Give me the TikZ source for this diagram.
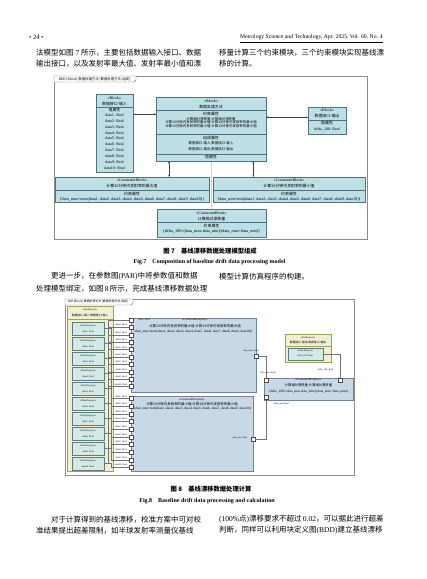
\documentclass[tikz,border=0pt]{standalone}
\usepackage{fontspec}
\setmainfont{Liberation Serif}
\newfontfamily\cjk{Noto Sans CJK SC}
\newfontfamily\latf{Liberation Serif}
\usetikzlibrary{arrows.meta,calc}
\XeTeXlinebreaklocale "zh"
\XeTeXlinebreakskip=0pt plus 1.5pt minus 0.5pt
\definecolor{blkfill}{HTML}{BEDFE6}
\definecolor{blkline}{HTML}{4E7480}
\definecolor{cpfill}{HTML}{C9D8E6}
\definecolor{cpline}{HTML}{71839B}
\definecolor{ppfill}{HTML}{EFEFD1}
\definecolor{ppline}{HTML}{A19F5C}
\definecolor{vpfill}{HTML}{D3E9E5}
\definecolor{vpline}{HTML}{5E7C7C}
\newcommand\myFmax{\{data\_max=max(data1, data2, data3, data4, data5, data6, data7, data8, data9, data10)\}}
\newcommand\myFmin{\{data\_min=min(data1, data2, data3, data4, data5, data6, data7, data8, data9, data10)\}}
\newcommand\myFdelta{\{delta\_100=(data\_max-data\_min)/(data\_max+data\_min)\}}
\newcommand\myJust[2]{\makebox[#1][s]{#2}}
\begin{document}
\begin{tikzpicture}[x=1pt,y=-1pt,
  body/.style={anchor=west,inner sep=0,font=\cjk\fontsize{7.5}{9}\selectfont},
  capzh/.style={inner sep=0,font=\cjk\bfseries\fontsize{6.3}{7}\selectfont},
  capen/.style={inner sep=0,font=\bfseries\fontsize{6}{7}\selectfont},
  frm/.style={draw=black!45,line width=0.5pt,inner sep=0,anchor=north west},
  tabbox/.style={draw=black!55,fill=white,line width=0.4pt},
  blk7/.style={draw=blkline,fill=blkfill,line width=0.45pt,inner sep=0,anchor=north west},
  sep7/.style={draw=blkline,line width=0.35pt},
  t7/.style={inner sep=0,font=\fontsize{4}{4.5}\selectfont},
  c7/.style={inner sep=0,font=\cjk\fontsize{3.9}{4.5}\selectfont},
  c7s/.style={inner sep=0,font=\cjk\fontsize{3.45}{4}\selectfont},
  f7/.style={inner sep=0,font=\fontsize{4.2}{4.6}\selectfont},
  conn7/.style={draw=black!75,line width=0.4pt},
  thick7/.style={draw=black!55,double=black!18,double distance=0.8pt,line width=0.35pt},
  cp/.style={draw=cpline,fill=cpfill,line width=0.45pt,inner sep=0,anchor=north west},
  pp/.style={draw=ppline,fill=ppfill,line width=0.45pt,inner sep=0,anchor=north west},
  vp/.style={draw=vpline,fill=vpfill,line width=0.4pt,inner sep=0},
  port/.style={draw=black!70,fill=white,line width=0.3pt,minimum size=4pt,inner sep=0},
  conn8/.style={draw=black!55,line width=0.4pt},
  t8/.style={inner sep=0,font=\fontsize{2.4}{2.8}\selectfont},
  c8/.style={inner sep=0,font=\cjk\fontsize{2.8}{3.2}\selectfont},
  t8c/.style={inner sep=0,font=\fontsize{3}{3.4}\selectfont},
  c8t/.style={inner sep=0,font=\cjk\fontsize{3.45}{4}\selectfont},
  f8/.style={inner sep=0,font=\fontsize{3.45}{4}\selectfont},
  hdr/.style={inner sep=0,font=\fontsize{5.7}{6.5}\selectfont}
]
\useasboundingbox (0,0) rectangle (427,579);
\fill[white] (0,0) rectangle (427,579);

% ---------- header ----------
\node[hdr,anchor=west,font=\fontsize{6.5}{7}\selectfont] (pg) at (29,37.3) {• 24 •};
\node[hdr,anchor=east] (jr) at (383,37.3) {Metrology Science and Technology, Apr. 2025, Vol. 69, No. 4};
\draw[line width=0.7pt] (240,42) -- (383,42);

% ---------- top text ----------
\node[body] (tl1) at (36,52.5) {\myJust{165pt}{法模型如图{\latf\ 7 }所示，主要包括数据输入接口、数据}};
\node[body] (tl2) at (36,63.5) {\myJust{165pt}{输出接口，以及发射率最大值、发射率最小值和漂}};
\node[body] (tr1) at (219,52.5) {\myJust{164pt}{移量计算三个约束模块，三个约束模块实现基线漂}};
\node[body] (tr2) at (219,63.5) {移的计算。};

% ---------- figure 7 ----------
\node[frm,minimum width=313pt,minimum height=163pt] (f7) at (54,76) {};
\draw[tabbox] (54,76) -- (136,76) -- (136,80) -- (134,82) -- (54,82) -- cycle;
\node[inner sep=0,font=\cjk\fontsize{3.4}{4}\selectfont] (tab7) at (94.5,79) {BDD [Block] 数据处理方法 [数据处理方法-组成]};

\node[blk7,minimum width=37pt,minimum height=78pt] (b1) at (96,94) {};
\draw[sep7] (96,106.7) -- (133,106.7);
\node[t7] (b1s) at (114.5,98.6) {«Block»};
\node[c7] (b1n) at (114.5,103.6) {数据接口-输入};
\node[c7] (b1h) at (114.5,110) {值属性};
\foreach \k in {1,...,10}{
  \node[t7] (b1d\k) at (114.5,{115+5.9*(\k-1)}) {data\k: Real};
}

\node[blk7,minimum width=110pt,minimum height=64pt] (b2) at (156,97) {};
\draw[sep7] (156,110.3) -- (266,110.3);
\draw[sep7] (156,134.3) -- (266,134.3);
\draw[sep7] (156,153.7) -- (266,153.7);
\node[t7] (b2s) at (211,101) {«Block»};
\node[c7] (b2n) at (211,107) {数据处理方法};
\node[c7] (b2h1) at (211,114) {约束属性};
\node[c7s] (b2l1) at (211,118.8) {计算相对漂移量:计算相对漂移量};
\node[c7s] (b2l2) at (211,122.3) {计算10分钟内发射率的最大值:计算10分钟内发射率的最大值};
\node[c7s] (b2l3) at (211,125.8) {计算10分钟内发射率的最小值:计算10分钟内发射率的最小值};
\node[c7] (b2h2) at (211,137.6) {组成属性};
\node[c7s] (b2l4) at (211,143.3) {数据接口-输入:数据接口-输入};
\node[c7s] (b2l5) at (211,149) {数据接口-输出:数据接口-输出};
\node[c7] (b2h3) at (211,157.2) {值属性};

\node[blk7,minimum width=38pt,minimum height=27pt] (b3) at (308,107) {};
\draw[sep7] (308,120) -- (346,120);
\node[t7] (b3s) at (327,110.2) {«Block»};
\node[c7] (b3n) at (327,116.3) {数据接口-输出};
\node[c7] (b3h) at (327,123.4) {值属性};
\node[t7] (b3d) at (327,129.2) {delta\_100: Real};

\node[blk7,minimum width=154pt,minimum height=25pt] (k1) at (55,177) {};
\draw[sep7] (55,190) -- (209,190);
\node[t7] (k1s) at (132,180.6) {«ConstraintBlock»};
\node[c7] (k1n) at (132,186.2) {计算10分钟内发射率的最大值};
\node[c7] (k1h) at (132,193.8) {约束属性};
\node[f7] (k1f) at (132,199.3) {\myFmax};

\node[blk7,minimum width=152pt,minimum height=25pt] (k2) at (213,177) {};
\draw[sep7] (213,190) -- (365,190);
\node[t7] (k2s) at (289,180.6) {«ConstraintBlock»};
\node[c7] (k2n) at (289,186.2) {计算10分钟内发射率的最小值};
\node[c7] (k2h) at (289,193.8) {约束属性};
\node[f7] (k2f) at (289,199.3) {\myFmin};

\node[blk7,minimum width=109pt,minimum height=28pt] (k3) at (157,209) {};
\draw[sep7] (157,222.3) -- (266,222.3);
\node[t7] (k3s) at (211.5,212.7) {«ConstraintBlock»};
\node[c7] (k3n) at (211.5,218.6) {计算相对漂移量};
\node[c7] (k3h) at (211.5,226) {约束属性};
\node[f7] (k3f) at (211.5,231.8) {\myFdelta};

\draw[conn7,{Diamond[length=2.6pt,width=1.8pt]}-{Stealth[length=2pt,width=1.6pt]}] ($(b2.north west)+(0,17.3)$) -- ($(b1.north east)+(0,20.3)$);
\draw[conn7,{Diamond[length=2.6pt,width=1.8pt]}-{Stealth[length=2pt,width=1.6pt]}] ($(b2.north east)+(0,20.3)$) -- ($(b3.north west)+(0,10.3)$);
\draw[conn7,{Diamond[length=2.6pt,width=1.8pt]}-{Stealth[length=2pt,width=1.6pt]}] ($(b2.south west)+(13,0)$) -- ($(k1.north west)+(114,0)$);
\draw[conn7,{Diamond[length=2.6pt,width=1.8pt]}-{Stealth[length=2pt,width=1.6pt]}] ($(b2.south west)+(97.3,0)$) -- ($(k2.north west)+(40.3,0)$);
\draw[thick7] ($(b2.south west)+(55.3,0.3)$) -- ($(k3.north west)+(54.3,-0.3)$);

% ---------- caption 7 ----------
\node[capzh] (cap7) at (210,251) {图 7\quad 基线漂移数据处理模型组成};
\node[capen] (cap7e) at (209.5,261.8) {Fig.7\quad Composition of baseline drift data processing model};

% ---------- middle text ----------
\node[body] (ml1) at (51,276.5) {\myJust{150pt}{更进一步，在参数图{\latf (PAR)}中将参数值和数据}};
\node[body] (ml2) at (36,288.5) {\myJust{165pt}{处理模型绑定，如图{\latf\ 8 }所示，完成基线漂移数据处理}};
\node[body] (mr1) at (219,276.5) {模型计算仿真程序的构建。};

% ---------- figure 8 ----------
\node[frm,minimum width=289pt,minimum height=176pt] (f8) at (65,299) {};
\draw[tabbox] (65,299) -- (133,299) -- (133,303) -- (131,305) -- (65,305) -- cycle;
\node[inner sep=0,font=\cjk\fontsize{2.9}{3.4}\selectfont] (tab8) at (98,302) {PAR [Block] 数据处理方法 [数据处理方法-绑定]};

\node[pp,minimum width=46pt,minimum height=164.5pt] (pp1) at (67,306) {};
\draw[ppline,line width=0.35pt] (67,319.3) -- (113,319.3);
\node[t8] (pp1s) at (90,310.2) {«PartProperty»};
\node[c8] (pp1n) at (90,315.6) {数据接口-输入:数据接口-输入};

\foreach \k in {1,...,10}{
  \node[vp,minimum width=32pt,minimum height=13pt] (v\k) at (88,{328.5+15*(\k-1)}) {};
  \node[t8] (v\k s) at (88,{325.6+15*(\k-1)}) {«ValueProperty»};
  \node[t8] (v\k d) at (88,{331.3+15*(\k-1)}) {data\k: Real};
}

\node[cp,minimum width=125pt,minimum height=74pt] (q1) at (131,318) {};
\node[t8c] (q1s) at (195,319.8) {«ConstraintProperty»};
\node[c8t] (q1n) at (195,326.2) {计算10分钟内发射率的最大值:计算10分钟内发射率的最大值};
\node[f8,anchor=west] (q1f) at (133.5,331.8) {\myFmax};

\node[cp,minimum width=122pt,minimum height=75pt] (q2) at (131,396) {};
\node[t8c] (q2s) at (192,399.6) {«ConstraintProperty»};
\node[c8t] (q2n) at (192,404.2) {计算10分钟内发射率的最小值:计算10分钟内发射率的最小值};
\node[f8,anchor=west] (q2f) at (133.5,408.6) {\myFmin};

\node[cp,minimum width=89pt,minimum height=22pt] (q3) at (264,378) {};
\node[t8c] (q3s) at (308.5,380.3) {«ConstraintProperty»};
\node[inner sep=0,font=\cjk\fontsize{3.3}{3.8}\selectfont] (q3n) at (308.5,385.3) {计算相对漂移量:计算相对漂移量};
\node[f8] (q3f) at (308.5,391.2) {\myFdelta};

\node[pp,minimum width=46pt,minimum height=28pt] (pp2) at (285,334) {};
\draw[ppline,line width=0.35pt] (285,346) -- (331,346);
\node[t8] (pp2s) at (308,337.6) {«PartProperty»};
\node[c8] (pp2n) at (308,342.8) {数据接口-输出:数据接口-输出};
\node[vp,minimum width=35pt,minimum height=11.7pt,anchor=north west] (vo) at (287.7,348.3) {};
\node[t8] (vos) at (305.2,351.3) {«ValueProperty»};
\node[t8] (vod) at (305.2,356.3) {delta\_100: Real};

% ports
\foreach \k in {1,...,10}{
  \node[port] (q1p\k) at (131,{320+7.4*(\k-1)}) {};
  \node[port] (q2p\k) at (131,{398.5+7.65*(\k-1)}) {};
}
\node[port] (q1o) at (256,356) {};
\node[port] (q2o) at (253,439.5) {};
\node[port] (q3a) at (266,380) {};
\node[port] (q3b) at (266,397.5) {};
\node[port] (q3c) at (340,380) {};

% connectors
\foreach \k in {1,...,10}{
  \draw[conn8] (v\k.east) -- ++(4,0) |- (q1p\k.west);
  \draw[conn8] (v\k.east) -- ++(7,0) |- (q2p\k.west);
}
\draw[conn8] (q1o.east) -| (q3a.north);
\draw[conn8] (q2o.east) -| (q3b.south);
\draw[conn8] (vo.east) -| (q3c.north);

% port labels
\node[t8] (lq11) at (144,319.8) {data1: Real};
\foreach \k in {2,...,10}{
  \node[t8] (lq1\k) at (121,{320+7.4*(\k-1)-2.3}) {data\k: Real};
}
\foreach \k in {1,...,10}{
  \node[t8] (lq2\k) at (121,{398.5+7.65*(\k-1)-2.3}) {data\k: Real};
}
\node[t8] (lq1o) at (251,351.2) {data\_max: Real};
\node[t8] (lq2o) at (240,438) {data\_min: Real};
\node[t8] (lq3a) at (268,373.3) {data\_max: Real};
\node[t8] (lq3b) at (281.5,404) {data\_min: Real};
\node[t8] (lq3c) at (325.5,369.5) {delta\_100: Real};

% ---------- caption 8 ----------
\node[capzh] (cap8) at (211,489.5) {图 8\quad 基线漂移数据处理计算};
\node[capen] (cap8e) at (207,500.8) {Fig.8\quad Baseline drift data processing and calculation};

% ---------- bottom text ----------
\node[body] (bl1) at (51,519.3) {\myJust{150pt}{对于计算得到的基线漂移，校准方案中可对校}};
\node[body] (bl2) at (36,530.3) {\myJust{165pt}{准结果提出超差限制，如半球发射率测量仪基线}};
\node[body] (br1) at (219,519.3) {\myJust{164pt}{{\latf (100\%}点{\latf )}漂移要求不超过{\latf\ 0.02}，可以据此进行超差}};
\node[body] (br2) at (219,530.3) {\myJust{164pt}{判断，同样可以利用块定义图{\latf (BDD)}建立基线漂移}};
\end{tikzpicture}
\end{document}
